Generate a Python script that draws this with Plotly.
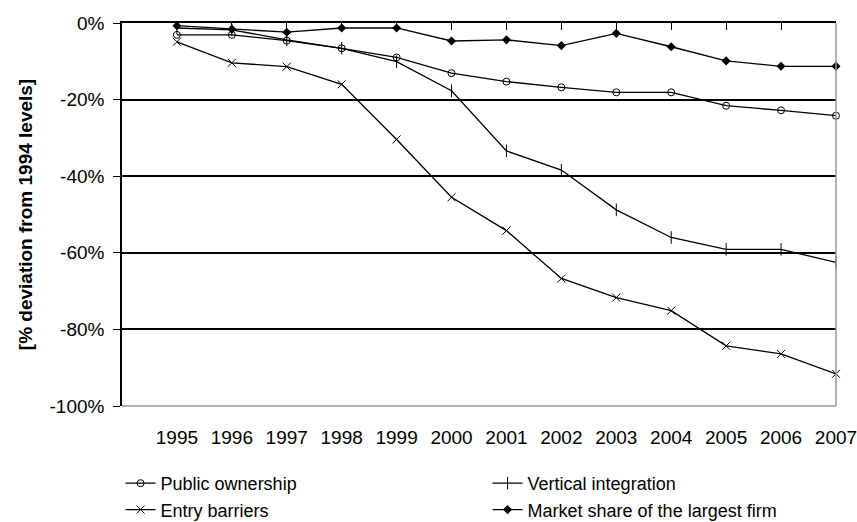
import plotly.graph_objects as go

years = [1995, 1996, 1997, 1998, 1999, 2000, 2001, 2002, 2003, 2004, 2005, 2006, 2007]
public_ownership = [-3.1, -3.1, -4.6, -6.6, -9.0, -13.1, -15.3, -16.8, -18.1, -18.1, -21.6, -22.8, -24.2]
vertical_integration = [-1.3, -1.8, -4.4, -6.6, -10.1, -17.7, -33.4, -38.4, -48.8, -56.0, -59.1, -59.1, -62.5]
entry_barriers = [-4.9, -10.4, -11.4, -16.0, -30.4, -45.5, -54.2, -66.7, -71.7, -75.1, -84.3, -86.4, -91.6]
market_share = [-0.7, -1.6, -2.4, -1.3, -1.3, -4.7, -4.4, -5.9, -2.7, -6.2, -9.9, -11.3, -11.3]

y_ticks = [0, -20, -40, -60, -80, -100]
y_ticktext = ["0%", "-20%", "-40%", "-60%", "-80%", "-100%"]
x_range = [1994, 2007.0005]

FONT = "Liberation Sans, Arial, sans-serif"

fig = go.Figure()
series = [
    ("Public ownership", public_ownership, dict(symbol="circle-open", size=7, color="black", line=dict(width=1, color="black"))),
    ("Vertical integration", vertical_integration, dict(symbol="line-ns-open", size=9, color="black", line=dict(width=1, color="black"))),
    ("Entry barriers", entry_barriers, dict(symbol="x-thin-open", size=8, color="black", line=dict(width=1, color="black"))),
    ("Market share of the largest firm", market_share, dict(symbol="diamond", size=7, color="black", line=dict(width=0, color="black"))),
]
for name, vals, marker in series:
    fig.add_trace(go.Scatter(
        x=years, y=vals, name=name, mode="lines+markers",
        line=dict(color="black", width=1.3), marker=marker, cliponaxis=False,
    ))

fig.update_layout(
    width=857, height=522,
    margin=dict(l=122, r=21, t=23, b=116, autoexpand=False),
    paper_bgcolor="white", plot_bgcolor="white",
    font=dict(family=FONT, size=19, color="black"),
    showlegend=True,
    legend=dict(
        orientation="h", x=-0.002, xanchor="left",
        y=-0.154, yanchor="top",
        entrywidth=322, entrywidthmode="pixels",
        font=dict(family=FONT, size=18, color="black"),
        itemwidth=30, tracegroupgap=0,
        bgcolor="rgba(0,0,0,0)",
    ),
    xaxis=dict(
        range=x_range, tickvals=years, ticktext=[str(y) for y in years],
        showgrid=False, zeroline=False, showline=False, automargin=False,
        ticks="outside", ticklen=14, tickcolor="rgba(0,0,0,0)",
        ticklabeloverflow="allow",
        tickfont=dict(family=FONT, size=19, color="black"),
    ),
    xaxis2=dict(
        range=x_range, tickvals=years, overlaying="x", side="top", anchor="y",
        showticklabels=False, showgrid=False, zeroline=False, automargin=False,
        showline=True, linecolor="black", linewidth=1.5,
        ticks="inside", ticklen=7, tickcolor="black", tickwidth=1.2,
    ),
    yaxis=dict(
        range=[-100, 0], tickvals=y_ticks, ticktext=y_ticktext, automargin=False,
        showgrid=True, gridcolor="black", gridwidth=1.5,
        zeroline=False, showline=True, linecolor="black", linewidth=1.5,
        ticks="outside", ticklen=7, tickcolor="black", tickwidth=1.2,
        ticklabelstandoff=5,
        tickfont=dict(family=FONT, size=19, color="black"),
        title=dict(text="<b>[% deviation from 1994 levels]</b>", font=dict(family=FONT, size=19, color="black"), standoff=12),
    ),
    shapes=[
        dict(type="line", xref="paper", yref="paper", x0=0, x1=1, y0=0, y1=0, line=dict(color="#999999", width=1.5), layer="above"),
        dict(type="line", xref="paper", yref="paper", x0=1, x1=1, y0=0, y1=1, line=dict(color="#999999", width=1.5), layer="above"),
    ],
)
fig.add_trace(go.Scatter(x=[1994], y=[None], xaxis="x2", showlegend=False, hoverinfo="skip"))

fig.write_html(
    "out.html",
    config={"displayModeBar": False},
    post_script="document.body.style.margin='0';document.body.style.padding='0';",
)
